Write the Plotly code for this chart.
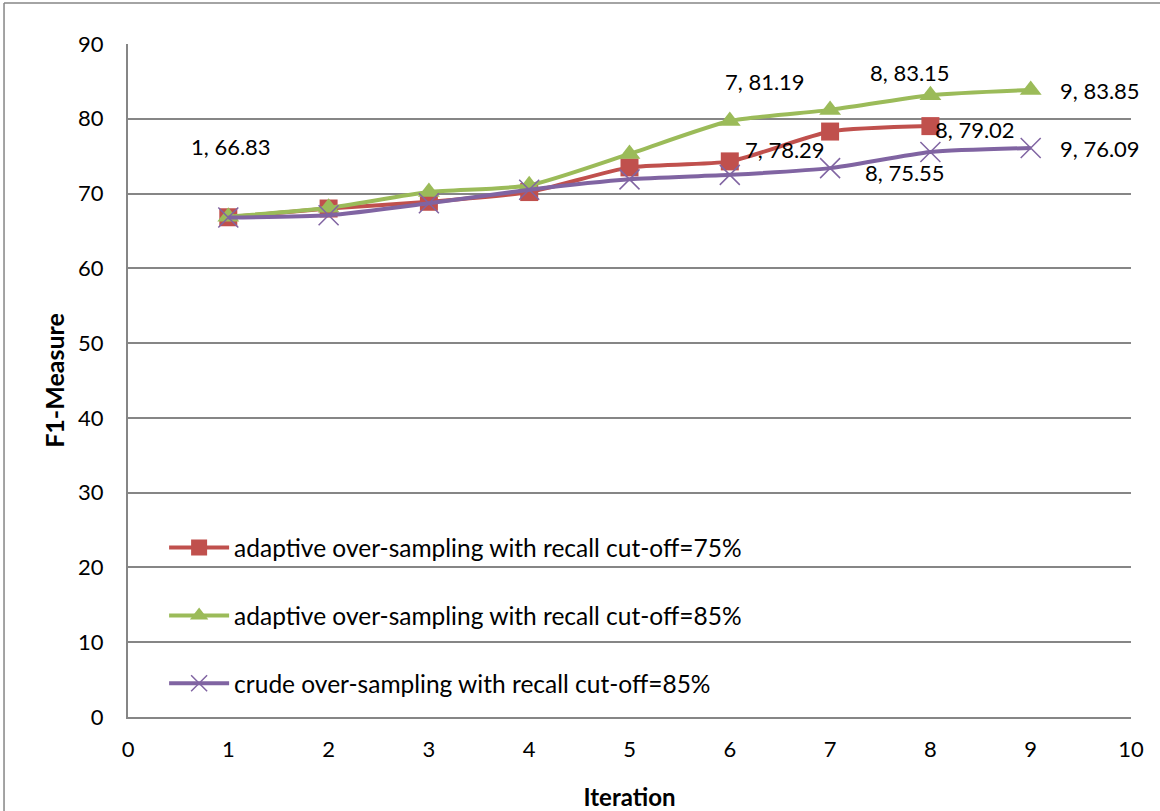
import plotly.graph_objects as go

iterations = [1, 2, 3, 4, 5, 6, 7, 8, 9]
adaptive75 = [66.83, 68.0, 68.9, 70.2, 73.5, 74.3, 78.29, 79.02]
adaptive85 = [66.9, 68.1, 70.2, 71.1, 75.3, 79.7, 81.19, 83.15, 83.85]
crude85 = [66.8, 67.1, 68.7, 70.5, 71.9, 72.5, 73.4, 75.55, 76.09]

names = [
    "adaptive over-sampling with recall cut-off=75%",
    "adaptive over-sampling with recall cut-off=85%",
    "crude over-sampling with recall cut-off=85%",
]
colors = ["#C0504D", "#9BBB59", "#8064A2"]

FONT = "Lato, Open Sans, sans-serif"
NUM_SIZE = 22

fig = go.Figure()
fig.add_trace(go.Scatter(
    x=iterations[:len(adaptive75)], y=adaptive75, name=names[0], mode="lines+markers",
    line=dict(color=colors[0], width=4, shape="spline", smoothing=0.6),
    marker=dict(symbol="square", size=18, color=colors[0]),
    legendgroup="a"))
fig.add_trace(go.Scatter(
    x=iterations, y=adaptive85, name=names[1], mode="lines+markers",
    line=dict(color=colors[1], width=4, shape="spline", smoothing=0.6),
    marker=dict(symbol="triangle-up", size=19, color=colors[1]),
    legendgroup="b"))
fig.add_trace(go.Scatter(
    x=iterations, y=crude85, name=names[2], mode="lines+markers",
    line=dict(color=colors[2], width=4, shape="spline", smoothing=0.6),
    marker=dict(symbol="x-thin", size=20, color=colors[2],
                line=dict(color=colors[2], width=1.5)),
    legendgroup="c"))

# data labels: (series values, index, xshift, yshift, xanchor)
labels = [
    (adaptive75, 0, 3, 71, "center"),
    (adaptive85, 6, -65, 28, "center"),
    (adaptive85, 7, -20, 23, "center"),
    (adaptive85, 8, 27, -1, "left"),
    (adaptive75, 7, 3, -3, "left"),
    (adaptive75, 6, -45, -18, "center"),
    (crude85, 8, 27, 0, "left"),
    (crude85, 7, -25, -20, "center"),
]
for series, i, dx, dy, anchor in labels:
    fig.add_annotation(
        x=iterations[i], y=series[i], text=f"{iterations[i]}, {series[i]:.2f}",
        showarrow=False, xshift=dx, yshift=dy, xanchor=anchor, yanchor="middle",
        font=dict(family=FONT, size=NUM_SIZE, color="#000000"))

# outer chart border (left and top)
fig.add_shape(type="line", xref="paper", yref="paper",
              x0=-0.1236, x1=-0.1236, y0=-0.2, y1=1.0609,
              line=dict(color="#868686", width=1.5))
fig.add_shape(type="line", xref="paper", yref="paper",
              x0=-0.1236, x1=1.05, y0=1.0609, y1=1.0609,
              line=dict(color="#868686", width=1.5))

fig.update_layout(
    width=1160, height=811,
    margin=dict(l=128, r=29, t=44, b=94, autoexpand=False),
    paper_bgcolor="white", plot_bgcolor="white",
    font=dict(family=FONT, size=NUM_SIZE, color="#000000"),
    showlegend=True,
    legend=dict(
        x=0.036, y=0.285, xanchor="left", yanchor="top",
        bgcolor="rgba(0,0,0,0)", font=dict(family=FONT, size=24.5, color="#000000"),
        tracegroupgap=33, traceorder="grouped", itemwidth=60,
    ),
    xaxis=dict(
        range=[0, 10], dtick=1, tick0=0, showgrid=False,
        showline=True, linecolor="#868686", linewidth=2,
        ticks="", ticklabelstandoff=12, automargin=False,
        tickfont=dict(family=FONT, size=NUM_SIZE),
        title=dict(text="<b>Iteration</b>", font=dict(family=FONT, size=24), standoff=28),
        zeroline=False,
    ),
    yaxis=dict(
        range=[0, 90], dtick=10, tick0=0, showgrid=True,
        gridcolor="#868686", gridwidth=1.5,
        showline=True, linecolor="#868686", linewidth=2,
        ticks="", ticklabelstandoff=18, automargin=False,
        tickfont=dict(family=FONT, size=NUM_SIZE),
        title=dict(text="<b>F1-Measure</b>", font=dict(family=FONT, size=25), standoff=6),
        zeroline=False,
    ),
)

fig.write_html("out.html")
